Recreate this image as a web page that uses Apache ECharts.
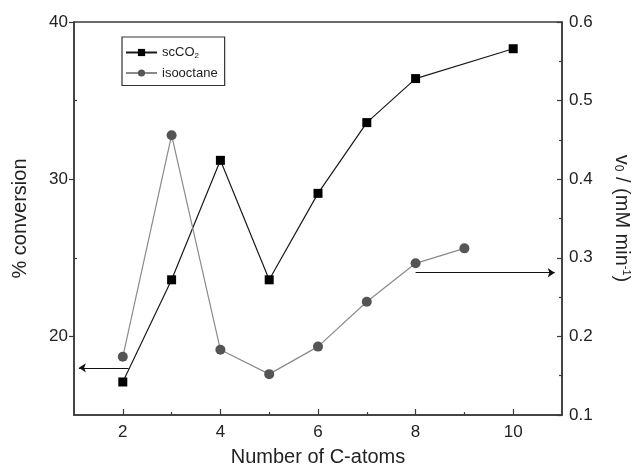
<!DOCTYPE html>
<html>
<head>
<meta charset="utf-8">
<script src="https://cdn.jsdelivr.net/npm/echarts@6/dist/echarts.min.js"></script>
<style>
  html, body { margin: 0; padding: 0; background: #fff; }
  #chart { width: 637px; height: 467px; }
</style>
</head>
<body>
<div id="chart"></div>
<script>
// Chain length of the substrate (number of C-atoms)
const carbonsCO2 = [2, 3, 4, 5, 6, 7, 8, 10];
const carbonsIso = [2, 3, 4, 5, 6, 7, 8, 9];
// % conversion in supercritical CO2 (left axis)
const conversionCO2 = [17.1, 23.6, 31.2, 23.6, 29.1, 33.6, 36.4, 38.3];
// initial rate v0 in isooctane, mM min-1 (right axis)
const rateIso = [0.174, 0.456, 0.183, 0.152, 0.187, 0.244, 0.293, 0.312];

const xTicks = [2, 4, 6, 8, 10];
const xMinor = [3, 5, 7, 9];
const leftTicks = [20, 30, 40];
const leftMinor = [25, 35];
const rightTicks = [0.1, 0.2, 0.3, 0.4, 0.5, 0.6];
const rightMinor = [0.15, 0.25, 0.35, 0.45, 0.55];

// arrows pointing each curve to its axis
const arrowCO2 = [[2.12, 18.0], [1.1, 18.0]];
const arrowIso = [[8.0, 0.281], [10.85, 0.281]];

const FONT = 'Liberation Sans, Arial, sans-serif';
const AXIS_COLOR = '#3a3a3a';

const chart = echarts.init(document.getElementById('chart'), null, { renderer: 'canvas' });

function pairs(xs, ys) { return xs.map((x, i) => [x, ys[i]]); }

const tickLabel = { color: '#222', fontFamily: FONT, fontSize: 17 };

const arrowLine = ends => ({
  silent: true,
  symbol: ['none', 'arrow'],
  symbolSize: 7,
  label: { show: false },
  emphasis: { disabled: true },
  lineStyle: { color: '#111', width: 1.2, type: 'solid' },
  data: [[{ coord: ends[0] }, { coord: ends[1] }]]
});

chart.setOption({
  animation: false,
  backgroundColor: '#fff',
  grid: {
    left: 74, right: 75, top: 22, bottom: 52,
    containLabel: false,
    outerBoundsMode: 'none',
    show: true, borderColor: AXIS_COLOR, borderWidth: 1.5, backgroundColor: 'transparent'
  },
  legend: {
    orient: 'vertical',
    left: 122, top: 37,
    padding: [9, 7, 6, 3],
    itemGap: 7,
    itemWidth: 31,
    itemHeight: 9,
    borderColor: '#333',
    borderWidth: 1.2,
    borderRadius: 0,
    textStyle: {
      fontFamily: FONT, fontSize: 13, color: '#222',
      rich: { sub: { fontFamily: FONT, fontSize: 8, color: '#222', verticalAlign: 'bottom', padding: [6, 0, 0, 0] } }
    },
    formatter: name => name === 'scCO2' ? 'scCO{sub|2}' : name,
    data: ['scCO2', 'isooctane']
  },
  xAxis: [
    {
      type: 'value', min: 1, max: 11, position: 'bottom',
      name: 'Number of C-atoms', nameLocation: 'middle', nameGap: 32,
      nameTextStyle: { fontFamily: FONT, fontSize: 20, color: '#222' },
      axisLine: { lineStyle: { color: AXIS_COLOR, width: 1.5 } },
      axisTick: { customValues: xTicks, inside: true, length: 6, lineStyle: { color: AXIS_COLOR, width: 1.2 } },
      axisLabel: Object.assign({ customValues: xTicks, margin: 9 }, tickLabel),
      splitLine: { show: false }
    },
    {
      type: 'value', min: 1, max: 11, position: 'bottom', offset: 0,
      axisLine: { show: false },
      axisTick: { customValues: xMinor, inside: true, length: 3, lineStyle: { color: AXIS_COLOR, width: 1.2 } },
      axisLabel: { show: false },
      splitLine: { show: false }
    }
  ],
  yAxis: [
    {
      type: 'value', min: 15, max: 40, position: 'left',
      name: '% conversion', nameLocation: 'middle', nameGap: 44,
      nameTextStyle: { fontFamily: FONT, fontSize: 20, color: '#222' },
      axisLine: { show: true, lineStyle: { color: AXIS_COLOR, width: 1.5 } },
      axisTick: { customValues: leftTicks, length: 5, lineStyle: { color: AXIS_COLOR, width: 1.2 } },
      axisLabel: Object.assign({ customValues: leftTicks, margin: 6 }, tickLabel),
      splitLine: { show: false }
    },
    {
      type: 'value', min: 0.1, max: 0.6, position: 'right',
      name: 'v{sub|0} / (mM min{sup|-1})', nameLocation: 'middle', nameGap: 50, nameRotate: -90,
      nameTextStyle: {
        fontFamily: FONT, fontSize: 20, color: '#222',
        rich: {
          sub: { fontFamily: FONT, fontSize: 12, color: '#222', padding: [8, 0, 0, 0] },
          sup: { fontFamily: FONT, fontSize: 11, color: '#222', padding: [0, 0, 8, 0] }
        }
      },
      axisLine: { show: true, lineStyle: { color: AXIS_COLOR, width: 1.5 } },
      axisTick: { customValues: rightTicks, inside: true, length: 5, lineStyle: { color: AXIS_COLOR, width: 1.2 } },
      axisLabel: Object.assign({ customValues: rightTicks, margin: 7, formatter: v => v.toFixed(1) }, tickLabel),
      splitLine: { show: false }
    },
    {
      type: 'value', min: 15, max: 40, position: 'left', offset: 0,
      axisLine: { show: false },
      axisTick: { customValues: leftMinor, inside: true, length: 3, lineStyle: { color: AXIS_COLOR, width: 1.2 } },
      axisLabel: { show: false },
      splitLine: { show: false }
    },
    {
      type: 'value', min: 0.1, max: 0.6, position: 'right', offset: 0,
      axisLine: { show: false },
      axisTick: { customValues: rightMinor, inside: true, length: 3, lineStyle: { color: AXIS_COLOR, width: 1.2 } },
      axisLabel: { show: false },
      splitLine: { show: false }
    }
  ],
  series: [
    {
      name: 'scCO2', type: 'line', xAxisIndex: 0, yAxisIndex: 0,
      data: pairs(carbonsCO2, conversionCO2),
      symbol: 'rect', symbolSize: 9,
      itemStyle: { color: '#000' },
      lineStyle: { color: '#1a1a1a', width: 1.2 },
      markLine: arrowLine(arrowCO2)
    },
    {
      name: 'isooctane', type: 'line', xAxisIndex: 0, yAxisIndex: 1,
      data: pairs(carbonsIso, rateIso),
      symbol: 'circle', symbolSize: 10,
      itemStyle: { color: '#555' },
      lineStyle: { color: '#8a8a8a', width: 1.2 },
      markLine: arrowLine(arrowIso)
    }
  ]
});
</script>
</body>
</html>
